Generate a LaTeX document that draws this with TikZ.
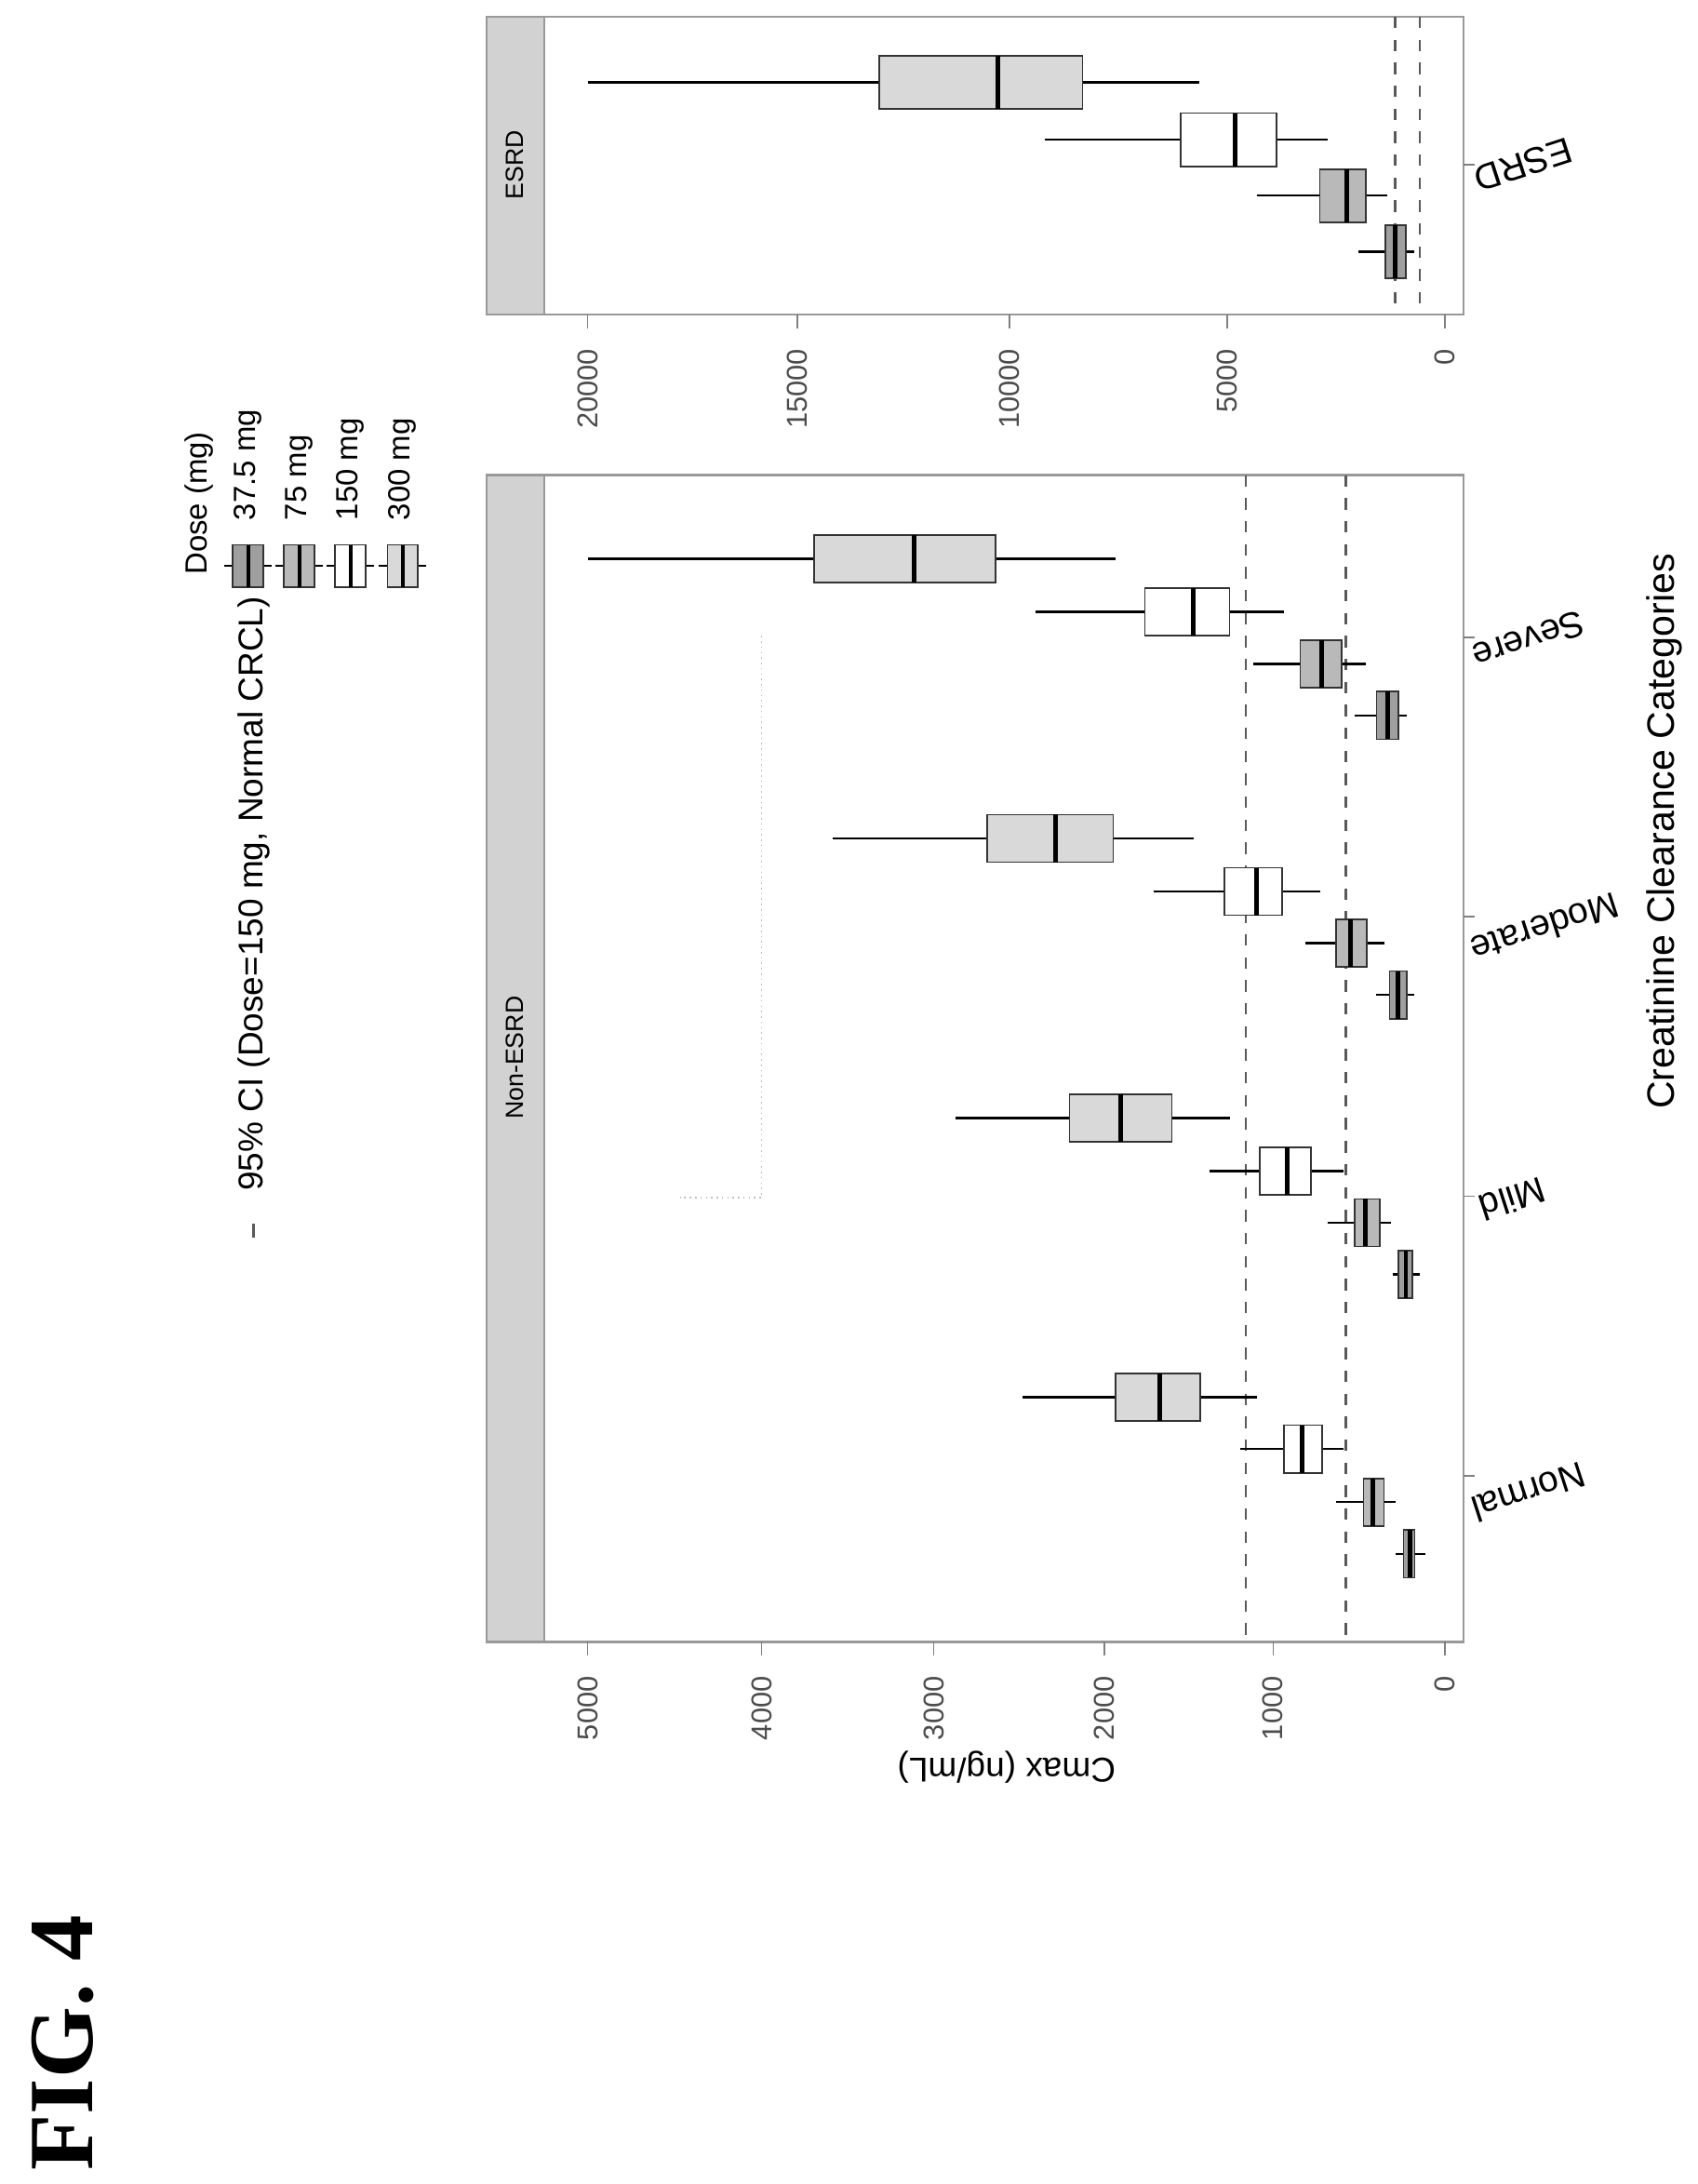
\documentclass[tikz,border=0pt]{standalone}
\usepackage{fontspec}
\setmainfont{Liberation Serif}
\newfontfamily\plotfont{Liberation Sans}
\usetikzlibrary{positioning}

\begin{document}
\begin{tikzpicture}[
        x=0.01cm, y=-0.01284cm,
        font=\plotfont\fontsize{6.5}{8}\selectfont,
        panel/.style={draw=gray!80, line width=0.6pt},
        strip/.style={draw=gray!80, fill=gray!35},
        ref/.style={dashed, line width=0.6pt, gray!70!black},
        tick/.style={rotate=90, anchor=east, text=gray!60!black, font=\plotfont\fontsize{7.5}{9}\selectfont},
        catlabel/.style={rotate=198, font=\plotfont\fontsize{9.5}{11}\selectfont},
        whisker/.style={line width=0.6pt}
    ]
    \useasboundingbox (0,0) rectangle (1560,1563);

    % --- PAINEL NON-ESRD ---
    \draw[strip] (447,340) rectangle (500,1175);
    \node[rotate=90] (stripNon) at (473,757) {Non-ESRD};
    \draw[panel] (447,340) rectangle (1345,1175);
    \draw[ref] (1145,340) -- (1145,1175);
    \draw[ref] (1237,340) -- (1237,1175);
    \draw[gray!50, densely dotted] (700,455) -- (700,857) -- (625,857);
    \foreach \x/\v in {540/5000, 700/4000, 858/3000, 1015/2000, 1170/1000, 1328/0} {
        \draw[gray] (\x,1175) -- (\x,1185);
        \node[tick] at (\x,1190) {\v};
    }
    \node[rotate=180, font=\plotfont\fontsize{9}{10}\selectfont] (ylab) at (925,1265) {Cmax (ng/mL)};

    % caixas: y / bigode / caixa / mediana / caixa / bigode / cor
    \foreach \yc/\wl/\bl/\md/\bh/\wh/\fc in {
        1000/940/1025/1066/1103/1155/gray!30, 1037/1140/1180/1197/1215/1235/white,
        1075/1228/1253/1262/1272/1283/gray!55, 1112/1283/1290/1296/1300/1310/gray!75,
        800/878/983/1030/1077/1130/gray!30, 838/1112/1158/1183/1205/1235/white,
        875/1220/1245/1255/1268/1278/gray!55, 912/1280/1285/1292/1298/1305/gray!75,
        600/765/907/970/1023/1097/gray!30, 638/1060/1125/1155/1178/1213/white,
        675/1200/1228/1241/1256/1272/gray!55, 712/1265/1277/1285/1293/1300/gray!75,
        400/540/748/840/915/1025/gray!30, 438/952/1052/1097/1130/1180/white,
        475/1152/1195/1215/1233/1255/gray!55, 512/1245/1265/1275/1285/1293/gray!75} {
        \draw[whisker] (\wl,\yc) -- (\bl,\yc);
        \draw[whisker] (\bh,\yc) -- (\wh,\yc);
        \filldraw[fill=\fc, draw=gray!40!black] (\bl,\yc-17) rectangle (\bh,\yc+17);
        \draw[line width=1.2pt] (\md,\yc-17) -- (\md,\yc+17);
    }
    \draw[gray] (1345,1056) -- (1355,1056);
    \draw[gray] (1345,856) -- (1355,856);
    \draw[gray] (1345,656) -- (1355,656);
    \draw[gray] (1345,456) -- (1355,456);
    \node[catlabel] (cNormal) at (1405,1068) {Normal};
    \node[catlabel] (cMild) at (1390,858) {Mild};
    \node[catlabel] (cModerate) at (1420,664) {Moderate};
    \node[catlabel] (cSevere) at (1405,458) {Severe};
    \node[rotate=90, font=\plotfont\fontsize{10}{12}\selectfont] (xlab) at (1530,595) {Creatinine Clearance Categories};

    % --- PAINEL ESRD ---
    \draw[strip] (447,12) rectangle (500,225);
    \node[rotate=90] (stripEsrd) at (473,118) {ESRD};
    \draw[panel] (447,12) rectangle (1345,225);
    \draw[ref] (1282,12) -- (1282,225);
    \draw[ref] (1305,12) -- (1305,225);
    \foreach \x/\v in {540/20000, 733/15000, 928/10000, 1128/5000, 1328/0} {
        \draw[gray] (\x,225) -- (\x,235);
        \node[tick] at (\x,240) {\v};
    }
    \foreach \yc/\wl/\bl/\md/\bh/\wh/\fc in {
        59/540/808/917/995/1102/gray!30, 100/960/1085/1135/1173/1220/white,
        140/1155/1213/1238/1255/1275/gray!55, 180/1248/1273/1282/1292/1300/gray!75} {
        \draw[whisker] (\wl,\yc) -- (\bl,\yc);
        \draw[whisker] (\bh,\yc) -- (\wh,\yc);
        \filldraw[fill=\fc, draw=gray!40!black] (\bl,\yc-19) rectangle (\bh,\yc+19);
        \draw[line width=1.2pt] (\md,\yc-19) -- (\md,\yc+19);
    }
    \draw[gray] (1345,118) -- (1355,118);
    \node[catlabel] (cEsrd) at (1400,118) {ESRD};

    % --- LEGENDA ---
    \draw[gray!70!black, line width=0.6pt] (233,876) -- (233,886);
    \node[rotate=90, anchor=west, font=\plotfont\fontsize{9}{10}\selectfont] (ciLeg) at (233,862) {95\% CI (Dose=150 mg, Normal CRCL)};
    \node[rotate=90, anchor=west, font=\plotfont\fontsize{8}{9}\selectfont] (doseLeg) at (183,421) {Dose (mg)};
    \foreach \x/\fc/\lab in {228/gray!75/37.5 mg, 275/gray!55/75 mg, 322/white/150 mg, 370/gray!30/300 mg} {
        \draw[whisker] (\x-22,405) -- (\x+22,405);
        \filldraw[fill=\fc, draw=gray!40!black] (\x-14,390) rectangle (\x+14,420);
        \draw[line width=1pt] (\x,390) -- (\x,420);
        \node[rotate=90, anchor=west, font=\plotfont\fontsize{8}{9}\selectfont] at (\x,382) {\lab};
    }

    % --- TITULO ---
    \node[rotate=90, font=\fontsize{24}{28}\bfseries] (fig) at (58,1462) {FIG. 4};
\end{tikzpicture}
\end{document}
